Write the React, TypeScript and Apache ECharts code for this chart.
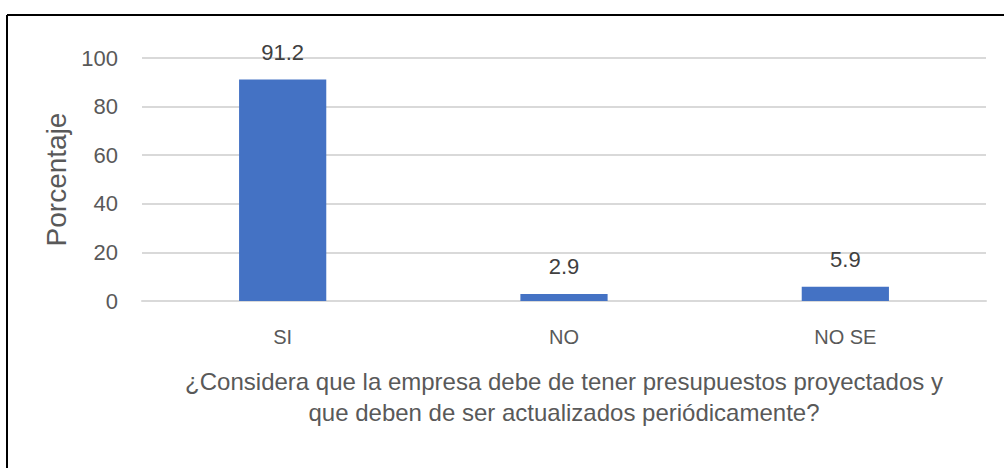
import React, { useEffect, useRef } from "react";
import * as echarts from "echarts";

const categories = ["SI", "NO", "NO SE"];
const values = [91.2, 2.9, 5.9];
const yTicks = [0, 20, 40, 60, 80, 100];
const yAxisTitle = "Porcentaje";
const xAxisTitle =
  "¿Considera que la empresa debe de tener presupuestos proyectados y\nque deben de ser actualizados periódicamente?";

const FONT = "'Liberation Sans', Arial, sans-serif";
const TEXT = "#595959";

export default function App() {
  const ref = useRef<HTMLDivElement>(null);
  useEffect(() => {
    if (!ref.current) return;
    const chart = echarts.init(ref.current, undefined, { renderer: "svg" });
    chart.setOption({
      animation: false,
      backgroundColor: "#ffffff",
      textStyle: { fontFamily: FONT },
      grid: { left: 142, right: 18, top: 58, bottom: 167 },
      xAxis: {
        type: "category",
        data: categories,
        axisLine: { show: true, lineStyle: { color: "#d9d9d9", width: 2 } },
        axisTick: { show: false },
        axisLabel: { color: TEXT, fontSize: 20, fontFamily: FONT, margin: 26 },
        name: xAxisTitle,
        nameLocation: "middle",
        nameGap: 65,
        nameTextStyle: { color: TEXT, fontSize: 24, fontFamily: FONT, lineHeight: 31 },
      },
      yAxis: {
        type: "value",
        min: 0,
        max: yTicks[yTicks.length - 1],
        interval: 20,
        axisLine: { show: false },
        axisTick: { show: false },
        splitLine: { lineStyle: { color: "#d9d9d9", width: 2 } },
        axisLabel: { color: TEXT, fontSize: 22, fontFamily: FONT, margin: 24 },
        name: yAxisTitle,
        nameLocation: "middle",
        nameGap: 70,
        nameRotate: 90,
        nameTextStyle: { color: TEXT, fontSize: 28, fontFamily: FONT },
      },
      series: [
        {
          type: "bar",
          data: values,
          barWidth: "31%",
          itemStyle: { color: "#4472C4" },
          label: {
            show: true,
            position: "top",
            distance: 16,
            color: "#404040",
            fontSize: 22,
            fontFamily: FONT,
            formatter: (p: any) => p.value.toFixed(1),
          },
        },
      ],
      graphic: [
        { type: "line", shape: { x1: 7, y1: 15, x2: 1004, y2: 15 }, style: { stroke: "#000", lineWidth: 2 } },
        { type: "line", shape: { x1: 7, y1: 15, x2: 7, y2: 468 }, style: { stroke: "#000", lineWidth: 2 } },
      ],
    });
    return () => chart.dispose();
  }, []);
  return (
    <div
      ref={ref}
      style={{ position: "fixed", left: 0, top: 0, width: 1004, height: 468 }}
    />
  );
}
